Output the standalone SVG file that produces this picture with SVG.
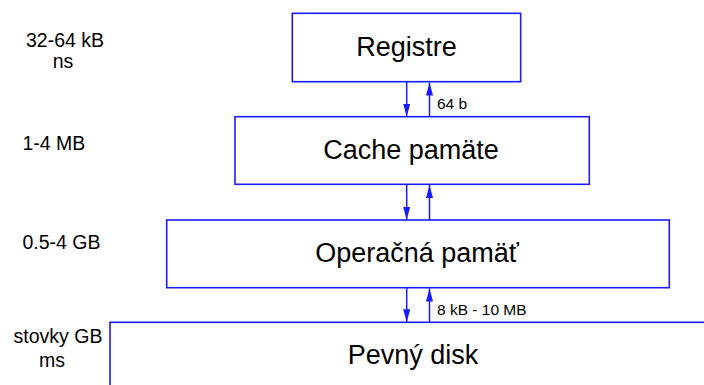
<svg xmlns="http://www.w3.org/2000/svg" width="704" height="385" viewBox="0 0 704 385">
<style>
.box{fill:#ffffff;stroke:#1a1aff;stroke-width:1.6}
.t{font-family:"Liberation Sans",Arial,sans-serif;fill:#000;}
.big{font-size:27px;text-anchor:middle}
.side{font-size:19.5px}
.small{font-size:15.5px}
.c{stroke:#1a1aff;stroke-width:1.5;fill:none}
</style>
<defs>
<marker id="ah" markerUnits="userSpaceOnUse" markerWidth="14" markerHeight="8" refX="13" refY="3.5" orient="auto">
<path d="M0,0 L13,3.5 L0,7 z" fill="#1a1aff"/>
</marker>
</defs>
<rect width="704" height="385" fill="#ffffff"/>
<g id="labels">
<text class="t side" x="65" y="47" text-anchor="middle">32-64 kB</text>
<text class="t side" x="63" y="68" text-anchor="middle">ns</text>
<text class="t side" x="22.5" y="150">1-4 MB</text>
<text class="t side" x="22.5" y="249">0.5-4 GB</text>
<text class="t side" x="58" y="343" text-anchor="middle">stovky GB</text>
<text class="t side" x="52" y="367" text-anchor="middle">ms</text>
</g>
<g id="registre">
<rect class="box" x="292.3" y="13.3" width="228.4" height="68.4"/>
<text class="t big" x="406.5" y="55.7">Registre</text>
</g>
<g id="cache">
<rect class="box" x="235" y="116.7" width="354.3" height="67.6"/>
<text class="t big" x="411" y="158.5">Cache pamäte</text>
</g>
<g id="operacna">
<rect class="box" x="166.7" y="220" width="502.6" height="67.7"/>
<text class="t big" x="417" y="262">Operačná pamäť</text>
</g>
<g id="disk">
<rect class="box" x="110" y="322.3" width="620" height="80"/>
<text class="t big" x="413" y="364">Pevný disk</text>
</g>
<g id="connectors">
<line class="c" x1="406.7" y1="81.7" x2="406.7" y2="116.7" marker-end="url(#ah)"/>
<line class="c" x1="429.5" y1="116.7" x2="429.5" y2="82.5" marker-end="url(#ah)"/>
<line class="c" x1="406.7" y1="184.3" x2="406.7" y2="220" marker-end="url(#ah)"/>
<line class="c" x1="429.5" y1="220" x2="429.5" y2="185" marker-end="url(#ah)"/>
<line class="c" x1="406.7" y1="287.7" x2="406.7" y2="322.3" marker-end="url(#ah)"/>
<line class="c" x1="429.5" y1="322.3" x2="429.5" y2="288.5" marker-end="url(#ah)"/>
<text class="t small" x="437" y="109">64 b</text>
<text class="t small" x="437" y="314.5">8 kB - 10 MB</text>
</g>
</svg>
